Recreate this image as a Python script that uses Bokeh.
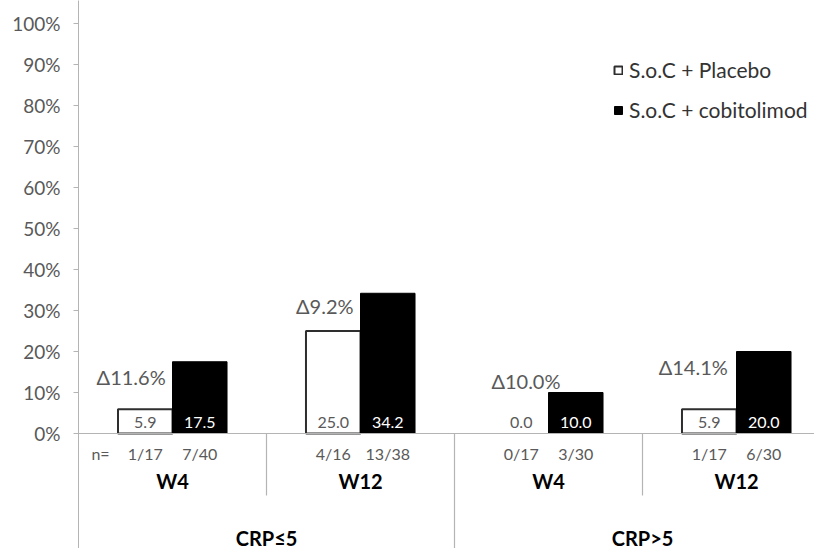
from bokeh.plotting import figure
from bokeh.models import (Range1d, FixedTicker, PrintfTickFormatter, Span,
                          Legend, LegendItem, ColumnDataSource)
from bokeh.core.properties import value
from bokeh.embed import file_html
from bokeh.resources import INLINE

# ---------------- data ----------------
crp_groups = ["CRP≤5", "CRP>5"]
weeks = ["W4", "W12", "W4", "W12"]
placebo = [5.9, 25.0, 0.0, 5.9]
cobitolimod = [17.5, 34.2, 10.0, 20.0]
placebo_n = ["1/17", "4/16", "0/17", "1/17"]
cobitolimod_n = ["7/40", "13/38", "3/30", "6/30"]
series_names = ["S.o.C + Placebo", "S.o.C + cobitolimod"]
y_ticks = [0, 10, 20, 30, 40, 50, 60, 70, 80, 90, 100]

# ---------------- layout constants ----------------
FONT = "Lato"
GRAY = "#595959"
AXIS = "#b4b4b4"
PX = 4.1                     # pixels per percent
BAR_W = 0.29
delta_dx = [0.28, 0.31, 0.38, 0.27]     # label centre, relative to category start
delta_y = [13.7, 31.2, 12.9, 16.1]      # label centre height (percent)

W, H = 814, 548
LEFT = 78
ZERO = 433                   # pixel row of 0%
x_end = (W - LEFT) / 188.0
y_top = ZERO / PX
y_bot = -(H - ZERO) / PX

p = figure(width=W, height=H, output_backend="svg", toolbar_location=None,
           x_range=Range1d(0, x_end), y_range=Range1d(y_bot, y_top),
           x_axis_type=None, min_border_left=LEFT, min_border_right=0,
           min_border_top=0, min_border_bottom=0)
p.outline_line_color = None
p.grid.visible = False
p.background_fill_color = "white"

yax = p.yaxis[0]
yax.ticker = FixedTicker(ticks=y_ticks)
yax.formatter = PrintfTickFormatter(format="%d%%")
yax.axis_line_color = AXIS
yax.major_tick_line_color = AXIS
yax.major_tick_out = 5
yax.major_tick_in = 0
yax.minor_tick_line_color = None
yax.major_label_standoff = 13
yax.major_label_text_font = FONT
yax.major_label_text_font_size = "19px"
yax.major_label_text_color = GRAY

# x axis line at 0
p.add_layout(Span(location=0, dimension="width", line_color=AXIS, line_width=1.2))

n = len(weeks)
centers = [i + 0.5 for i in range(n)]
x_pl = [c - BAR_W / 2 for c in centers]
x_co = [c + BAR_W / 2 for c in centers]

src = ColumnDataSource(dict(
    x_pl=x_pl, x_co=x_co, placebo=placebo, cobitolimod=cobitolimod,
    pl_lab=["%.1f" % v for v in placebo], co_lab=["%.1f" % v for v in cobitolimod],
    pl_n=placebo_n, co_n=cobitolimod_n,
    pl_line=[1.0 if v > 0 else 0.0 for v in placebo],
))

r_pl = p.vbar(x="x_pl", top="placebo", bottom=0, width=BAR_W, source=src,
              fill_color="white", line_color="#2e2e2e", line_width=2.0,
              line_alpha="pl_line")
r_co = p.vbar(x="x_co", top="cobitolimod", bottom=0, width=BAR_W, source=src,
              fill_color="black", line_color="black", line_width=1.0)

# value labels inside bars
p.text(x="x_pl", y=2.7, text="pl_lab", source=src, text_align="center",
       text_baseline="middle", text_font=value(FONT), text_font_size="16px",
       text_color=GRAY)
p.text(x="x_co", y=2.7, text="co_lab", source=src, text_align="center",
       text_baseline="middle", text_font=value(FONT), text_font_size="16px",
       text_color="white")

# n labels
p.text(x="x_pl", y=-20 / PX, text="pl_n", source=src, text_align="center",
       text_baseline="middle", text_font=value(FONT), text_font_size="16px",
       text_color=GRAY)
p.text(x="x_co", y=-20 / PX, text="co_n", source=src, text_align="center",
       text_baseline="middle", text_font=value(FONT), text_font_size="16px",
       text_color=GRAY)
p.text(x=[22 / 188.0], y=[-20 / PX], text=["n="], text_align="center",
       text_baseline="middle", text_font=value(FONT), text_font_size="16px",
       text_color=GRAY)

# week labels
p.text(x=centers, y=[-47 / PX] * n, text=weeks, text_align="center",
       text_baseline="middle", text_font=value(FONT), text_font_size="20px",
       text_font_style="bold", text_color="black")

# CRP group labels
p.text(x=[1.0, 3.0], y=[-104 / PX] * 2, text=crp_groups, text_align="center",
       text_baseline="middle", text_font=value(FONT), text_font_size="20px",
       text_font_style="bold", text_color="black")

# separators
p.segment(x0=[1, 3], y0=[0, 0], x1=[1, 3], y1=[-62 / PX] * 2,
          line_color=AXIS, line_width=1.2)
p.segment(x0=[2], y0=[0], x1=[2], y1=[y_bot], line_color=AXIS, line_width=1.2)

# delta labels
deltas = ["Δ%.1f%%" % (c - pl) for pl, c in zip(placebo, cobitolimod)]
p.text(x=[i + d for i, d in enumerate(delta_dx)], y=delta_y, text=deltas,
       text_align="center", text_baseline="middle", text_font=value(FONT),
       text_font_size="20px", text_color=GRAY)

legend = Legend(items=[LegendItem(label=series_names[0], renderers=[r_pl]),
                       LegendItem(label=series_names[1], renderers=[r_co])],
                location=(535, 426), orientation="vertical",
                border_line_color=None, background_fill_alpha=0,
                padding=0, margin=0, spacing=15, glyph_width=10, glyph_height=10,
                label_height=22, label_standoff=6,
                label_text_font=FONT, label_text_font_size="21px",
                label_text_color="#333333", label_text_baseline="middle")
p.add_layout(legend, "center")

open("out.html", "w").write(file_html(p, INLINE))
